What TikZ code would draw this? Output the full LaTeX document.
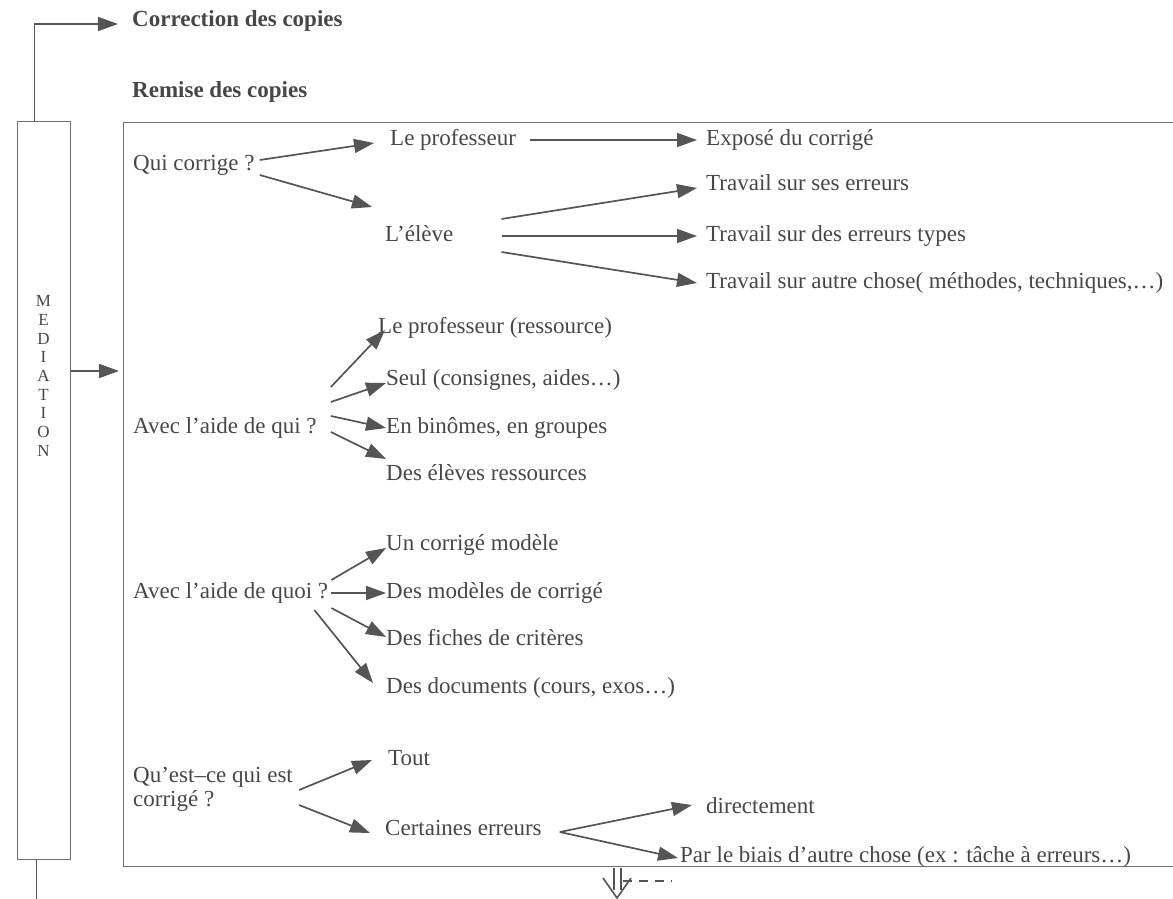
\documentclass[tikz,border=0pt]{standalone}
\usepackage{fontspec}
\setmainfont{Liberation Serif}
\usetikzlibrary{arrows.meta}
\definecolor{ink}{HTML}{474747}
\definecolor{lineink}{HTML}{555555}
\begin{document}
\begin{tikzpicture}[x=1pt,y=-1pt,
  txt/.style={anchor=west,inner sep=0pt,text=ink,font=\fontsize{23}{27}\selectfont,text height=15pt,text depth=5pt},
  btxt/.style={txt,font=\fontsize{23}{27}\selectfont\bfseries},
  arr/.style={draw=lineink,line width=1.7pt,-{Triangle[length=20pt,width=14pt]}},
  plain/.style={draw=lineink,line width=1.4pt},
  frame/.style={draw=lineink!85,line width=1.1pt}]
\useasboundingbox (0,0) rectangle (1173,899);
\fill[white] (0,0) rectangle (1173,899);

% headings
\node[btxt] (corr) at (132,22) {Correction des copies};
\node[btxt] (rem) at (132,92) {Remise des copies};

% mediation column
\node[frame,anchor=north west,minimum width=53pt,minimum height=738pt,inner sep=0pt] (med) at (17,121) {};
\node[inner sep=0pt,text=ink,align=center,font=\fontsize{17}{18.7}\selectfont] (medtxt) at (43.5,376) {M\\E\\D\\I\\A\\T\\I\\O\\N};

% main frame
\node[frame,anchor=north west,minimum width=1090pt,minimum height=744pt,inner sep=0pt] (box) at (123,122) {};

% connectors of the column
\draw[arr] ([xshift=-9.5pt]med.north) |- ([shift={(-14,2)}]corr.west);
\draw[plain] ([xshift=-7.5pt]med.south) -- ++(0,45);
\draw[arr] (med.east |- 0,371) -- ([xshift=-4pt]box.west |- 0,371);

% Qui corrige
\node[txt] (qc) at (133,165) {Qui corrige ?};
\node[txt] (lp) at (390,140) {Le professeur};
\node[txt] (exp) at (706,140) {Exposé du corrigé};
\node[txt] (el) at (385,236) {L’élève};
\node[txt] (t1) at (706,185) {Travail sur ses erreurs};
\node[txt] (t2) at (706,236) {Travail sur des erreurs types};
\node[txt] (t3) at (706,283) {Travail sur autre chose( méthodes, techniques,…)};

\draw[arr] ([shift={(5,-5)}]qc.east) -- ([shift={(-16,3)}]lp.west);
\draw[arr] ([shift={(5,10)}]qc.east) -- ([shift={(-13,-29)}]el.west);
\draw[arr] ([shift={(14,0)}]lp.east) -- ([shift={(-9,0)}]exp.west);
\draw[arr] ([shift={(48,-17)}]el.east) -- ([shift={(-9,3)}]t1.west);
\draw[arr] ([shift={(48,0)}]el.east) -- ([shift={(-9,0)}]t2.west);
\draw[arr] ([shift={(48,16)}]el.east) -- ([shift={(-9,0)}]t3.west);

% Avec l'aide de qui
\node[txt] (qui) at (133,428) {Avec l’aide de qui ?};
\node[txt] (r1) at (378,328) {Le professeur (ressource)};
\node[txt] (r2) at (386,380) {Seul (consignes, aides…)};
\node[txt] (r3) at (386,428) {En binômes, en groupes};
\node[txt] (r4) at (386,475) {Des élèves ressources};

\draw[arr] ([shift={(14,-41)}]qui.east) -- ([shift={(7,2)}]r1.west);
\draw[arr] ([shift={(14,-26)}]qui.east) -- ([shift={(0,3)}]r2.west);
\draw[arr] ([shift={(14,-12)}]qui.east) -- (r3.west);
\draw[arr] ([shift={(14,4)}]qui.east) -- ([shift={(0,-16)}]r4.west);

% Avec l'aide de quoi
\node[txt] (quoi) at (133,593) {Avec l’aide de quoi ?};
\node[txt] (q1) at (386,545) {Un corrigé modèle};
\node[txt] (q2) at (386,593) {Des modèles de corrigé};
\node[txt] (q3) at (386,640) {Des fiches de critères};
\node[txt] (q4) at (386,688) {Des documents (cours, exos…)};

\draw[arr] ([shift={(3,-13)}]quoi.east) -- ([shift={(0,3)}]q1.west);
\draw[arr] ([shift={(3,0)}]quoi.east) -- (q2.west);
\draw[arr] ([shift={(3,15)}]quoi.east) -- ([shift={(0,-3)}]q3.west);
\draw[arr] ([shift={(-14,17)}]quoi.east) -- ([shift={(-13,-5)}]q4.west);

% Qu'est-ce qui est corrigé
\node[txt,align=left,text height=,text depth=,font=\fontsize{23}{24}\selectfont] (what) at (133,789) {Qu’est–ce qui est\\corrigé ?};
\node[txt] (tout) at (388,760) {Tout};
\node[txt] (cert) at (385,830) {Certaines erreurs};
\node[txt] (dir) at (706,808) {directement};
\node[txt] (biais) at (680,857) {Par le biais d’autre chose (ex : tâche à erreurs…)};

\draw[arr] ([shift={(6,1)}]what.east) -- ([shift={(-16,0)}]tout.west);
\draw[arr] ([shift={(6,16)}]what.east) -- ([shift={(-15,3)}]cert.west);
\coordinate (vtx) at ([shift={(18,2)}]cert.east);
\draw[arr] (vtx) -- ([shift={(-14,-3)}]dir.west);
\draw[arr] (vtx) -- ([shift={(-2,1)}]biais.west);

% scribble below the frame
\draw[plain,line width=1.5pt] (614,868) -- (614,890);
\draw[plain,line width=1.5pt] (621,868) -- (621,890);
\draw[plain,line width=1.6pt,line join=round] (603,878) -- (617,898) -- (631,878);
\draw[plain,line width=1.2pt,dash pattern=on 9pt off 7pt] (623,881) -- (672,881);
\end{tikzpicture}
\end{document}
